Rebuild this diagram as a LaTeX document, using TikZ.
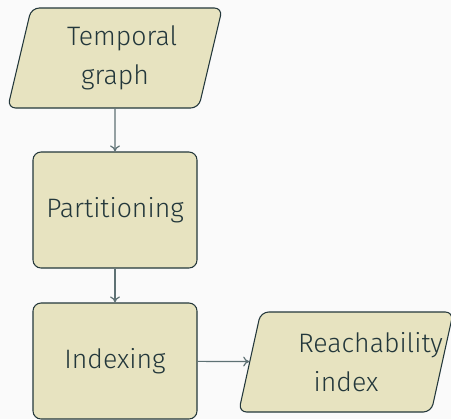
\documentclass[tikz,border=0pt]{standalone}
\usepackage{fontspec}
\setmainfont{Fira Sans}[UprightFont={* Light}]
\usetikzlibrary{arrows.meta,positioning,shapes.geometric}
\definecolor{pagebg}{HTML}{FAFAFA}
\definecolor{sand}{HTML}{E7E3C0}
\definecolor{teal}{HTML}{23373B}
\definecolor{wire}{HTML}{5E7174}

\begin{document}
\begin{tikzpicture}[x=0.75pt, y=-0.75pt,
      box/.style={draw=teal, fill=sand, line width=0.8pt, rounded corners=6pt, minimum width=123pt, minimum height=87pt, align=center, text=teal, font=\fontsize{20}{29}\selectfont},
      io/.style={draw=teal, fill=sand, line width=0.8pt, rounded corners=6pt, trapezium, trapezium left angle=72, trapezium right angle=108, trapezium stretches body, minimum width=161pt, minimum height=75pt, text width=72pt, align=center, text=teal, font=\fontsize{20}{29}\selectfont},
      arr/.style={-{To[length=1.6mm, width=2.6mm]}, line width=0.9pt, color=wire}]
    \fill[pagebg] (0,0) rectangle (451,419);
    \useasboundingbox (0,0) rectangle (451,419);
    \node[io] (tgraph) at (115,58) {Temporal\\graph};
    \node[box] (part) at (115,210) {Partitioning};
    \node[box] (index) at (115,361) {Indexing};
    \node[io] (reach) at (346,362) {Reachability\\index};
    \draw[arr] (tgraph) -- (part);
    \draw[arr] (part) -- (index);
    \draw[arr] (index) -- (reach);
  \end{tikzpicture}
\end{document}
